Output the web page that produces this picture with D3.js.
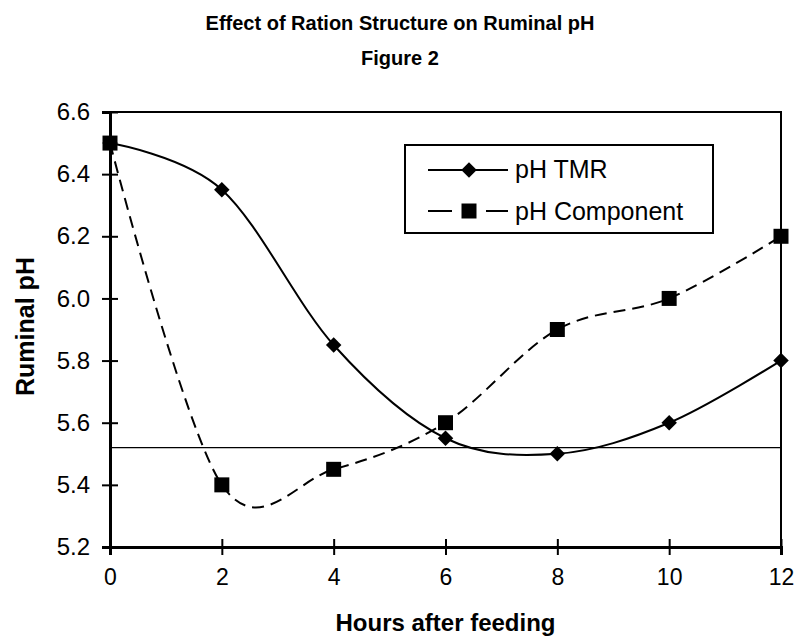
<!DOCTYPE html>
<html>
<head>
<meta charset="utf-8">
<script src="https://cdn.jsdelivr.net/npm/d3@7"></script>
<style>
  body { margin: 0; background: #fff; }
  text { font-family: "Liberation Sans", Arial, sans-serif; fill: #000; }
</style>
</head>
<body>
<div id="cont"></div>
<script>
// chart data
var hours = [0, 2, 4, 6, 8, 10, 12];
var phTMR = [6.5, 6.35, 5.85, 5.55, 5.5, 5.6, 5.8];
var phComponent = [6.5, 5.4, 5.45, 5.6, 5.9, 6.0, 6.2];
var yTicks = [5.2, 5.4, 5.6, 5.8, 6.0, 6.2, 6.4, 6.6];
var xTicks = [0, 2, 4, 6, 8, 10, 12];
var threshold = 5.52;
var seriesNames = ["pH TMR", "pH Component"];

// set the dimensions and margins of the graph
var W = 798, H = 643;
var margin = {top: 112, right: 17, bottom: 96, left: 110},
    width = W - margin.left - margin.right,
    height = H - margin.top - margin.bottom;

var svg = d3.select("#cont").append("svg")
    .attr("width", W)
    .attr("height", H);

// titles
svg.append("text")
    .attr("x", 400).attr("y", 30)
    .attr("text-anchor", "middle")
    .style("font-weight", "bold").style("font-size", "20px")
    .text("Effect of Ration Structure on Ruminal pH");
svg.append("text")
    .attr("x", 400).attr("y", 65)
    .attr("text-anchor", "middle")
    .style("font-weight", "bold").style("font-size", "20px")
    .text("Figure 2");

var g = svg.append("g")
    .attr("transform", "translate(" + margin.left + "," + margin.top + ")");

// set the ranges
var x = d3.scaleLinear().domain([0, 12]).range([0, width]);
var y = d3.scaleLinear().domain([5.2, 6.6]).range([height, 0]);

// plot frame (top + right)
g.append("rect")
    .attr("width", width).attr("height", height)
    .style("fill", "none").style("stroke", "#000").style("stroke-width", 2);

// threshold line
g.append("line")
    .attr("x1", 0).attr("x2", width)
    .attr("y1", y(threshold)).attr("y2", y(threshold))
    .style("stroke", "#000").style("stroke-width", 1.3);

// axes
var yAxis = g.append("g")
    .call(d3.axisLeft(y).tickValues(yTicks).tickFormat(d3.format(".1f"))
        .tickSize(8).tickPadding(12));
var xAxis = g.append("g")
    .attr("transform", "translate(0," + height + ")")
    .call(d3.axisBottom(x).tickValues(xTicks).tickSize(8).tickPadding(14));

[yAxis, xAxis].forEach(function(a) {
  a.select(".domain").style("stroke-width", 3);
  a.selectAll(".tick line").style("stroke-width", 2);
  a.selectAll("text").style("font-size", "24px")
      .style("font-family", "'Liberation Sans', Arial, sans-serif");
});
xAxis.selectAll("text").style("font-size", "23px");
// crossing ticks
yAxis.selectAll(".tick line").attr("x1", 8);
xAxis.selectAll(".tick line").attr("y1", -8);

// axis titles
svg.append("text")
    .attr("x", margin.left + width / 2).attr("y", 631)
    .attr("text-anchor", "middle")
    .style("font-weight", "bold").style("font-size", "24px")
    .text("Hours after feeding");
svg.append("text")
    .attr("transform", "translate(34," + (margin.top + height / 2 - 3) + ") rotate(-90)")
    .attr("text-anchor", "middle")
    .style("font-weight", "bold").style("font-size", "25px")
    .text("Ruminal pH");

// lines
function lineFor(vals) {
  return d3.line()
      .x(function(d, i) { return x(hours[i]); })
      .y(function(d) { return y(d); })
      .curve(d3.curveCardinal.tension(0))(vals);
}

g.append("path")
    .attr("d", lineFor(phComponent))
    .style("fill", "none").style("stroke", "#000")
    .style("stroke-width", 2).style("stroke-dasharray", "12,7");
g.append("path")
    .attr("d", lineFor(phTMR))
    .style("fill", "none").style("stroke", "#000").style("stroke-width", 2);

var diamond = d3.symbol().type(d3.symbolSquare).size(120);
var square = d3.symbol().type(d3.symbolSquare).size(225);

g.selectAll(".tmr")
    .data(phTMR)
  .enter().append("path")
    .attr("d", diamond)
    .attr("transform", function(d, i) {
      return "translate(" + x(hours[i]) + "," + y(d) + ") rotate(45)"; })
    .style("fill", "#000");

g.selectAll(".comp")
    .data(phComponent)
  .enter().append("path")
    .attr("d", square)
    .attr("transform", function(d, i) {
      return "translate(" + x(hours[i]) + "," + y(d) + ")"; })
    .style("fill", "#000");

// legend
var lg = svg.append("g").attr("transform", "translate(405,145)");
lg.append("rect")
    .attr("width", 308).attr("height", 88)
    .style("fill", "#fff").style("stroke", "#000").style("stroke-width", 2);

lg.append("line").attr("x1", 23).attr("x2", 103).attr("y1", 25).attr("y2", 25)
    .style("stroke", "#000").style("stroke-width", 2);
lg.append("path").attr("d", diamond)
    .attr("transform", "translate(64,25) rotate(45)").style("fill", "#000");
lg.append("text").attr("x", 110).attr("y", 33)
    .style("font-size", "25px").text(seriesNames[0]);

lg.append("line").attr("x1", 23).attr("x2", 103).attr("y1", 66).attr("y2", 66)
    .style("stroke", "#000").style("stroke-width", 2)
    .style("stroke-dasharray", "24,34");
lg.append("path").attr("d", square)
    .attr("transform", "translate(64,66)").style("fill", "#000");
lg.append("text").attr("x", 110).attr("y", 75)
    .style("font-size", "25px").text(seriesNames[1]);
</script>
</body>
</html>
